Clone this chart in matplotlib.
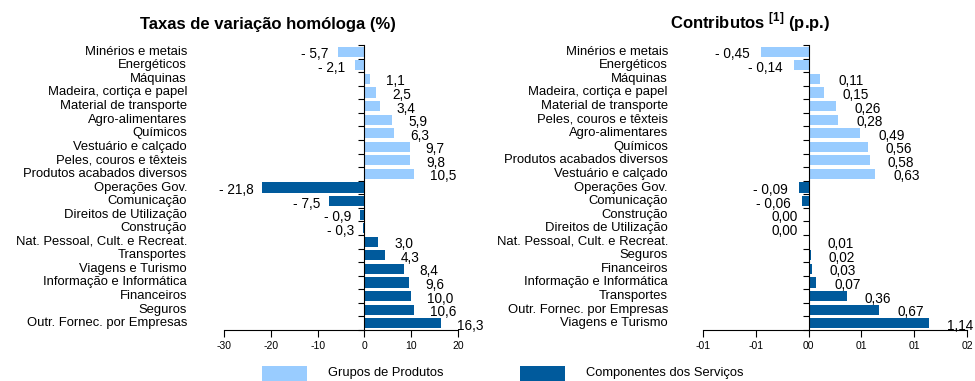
import matplotlib
matplotlib.use("Agg")
import matplotlib.pyplot as plt
import numpy as np
from matplotlib.patches import Rectangle
from matplotlib.transforms import blended_transform_factory

plt.rcParams['font.family'] = ['Liberation Sans', 'DejaVu Sans']
plt.rcParams['mathtext.fontset'] = 'custom'
plt.rcParams['mathtext.bf'] = 'Liberation Sans:bold'

light = "#99CCFF"
dark = "#005A9C"

# taxas de variação homóloga (%)
tx_labels = ["Minérios e metais", "Energéticos", "Máquinas", "Madeira, cortiça e papel",
             "Material de transporte", "Agro-alimentares", "Químicos", "Vestuário e calçado",
             "Peles, couros e têxteis", "Produtos acabados diversos", "Operações Gov.",
             "Comunicação", "Direitos de Utilização", "Construção",
             "Nat. Pessoal, Cult. e Recreat.", "Transportes", "Viagens e Turismo",
             "Informação e Informática", "Financeiros", "Seguros", "Outr. Fornec. por Empresas"]
tx_values = [-5.7, -2.1, 1.1, 2.5, 3.4, 5.9, 6.3, 9.7, 9.8, 10.5,
             -21.8, -7.5, -0.9, -0.3, 3.0, 4.3, 8.4, 9.6, 10.0, 10.6, 16.3]
tx_group = [0]*10 + [1]*11

# contributos (p.p.)
ct_labels = ["Minérios e metais", "Energéticos", "Máquinas", "Madeira, cortiça e papel",
             "Material de transporte", "Peles, couros e têxteis", "Agro-alimentares",
             "Químicos", "Produtos acabados diversos", "Vestuário e calçado", "Operações Gov.",
             "Comunicação", "Construção", "Direitos de Utilização",
             "Nat. Pessoal, Cult. e Recreat.", "Seguros", "Financeiros",
             "Informação e Informática", "Transportes", "Outr. Fornec. por Empresas",
             "Viagens e Turismo"]
ct_values = [-0.45, -0.14, 0.11, 0.15, 0.26, 0.28, 0.49, 0.56, 0.58, 0.63,
             -0.09, -0.06, 0.00, 0.00, 0.01, 0.02, 0.03, 0.07, 0.36, 0.67, 1.14]
ct_group = [0]*10 + [1]*11

tx_ticks = [-30, -20, -10, 0, 10, 20]
ct_ticks = [-1.0, -0.5, 0.0, 0.5, 1.0, 1.5]
ct_ticklabels = ["-01", "-01", "00", "01", "01", "02"]

legend_labels = ["Grupos de Produtos", "Componentes dos Serviços"]

W, H = 975.0, 381.0
fig = plt.figure(figsize=(W/100, H/100), dpi=100)
ax1 = fig.add_axes([224/W, (H-330)/H, 234/W, 285/H])
ax2 = fig.add_axes([703/W, (H-330)/H, 264/W, 285/H])


def fmt(v, nd):
    s = f"{abs(v):.{nd}f}".replace(".", ",")
    return "- " + s if v < 0 else s


def panel(ax, labels, values, groups, ticks, ticklabels, nd, pos_gap, neg_gap, label_x):
    n = len(values)
    y = np.arange(n)
    colors = [light if g == 0 else dark for g in groups]
    ax.barh(y, values, height=0.74, color=colors, zorder=2)
    ax.set_ylim(n - 0.5, -0.5)
    ax.set_xlim(ticks[0], ticks[-1])
    ax.set_xticks(ticks)
    ax.set_xticklabels(ticklabels, fontsize=7.5)
    ax.tick_params(axis="x", direction="out", length=5, width=0.8, pad=3)
    ax.spines["left"].set_position(("data", 0))
    ax.spines["left"].set_zorder(3)
    ax.set_yticks(np.arange(-0.5, n, 1.0))
    ax.set_yticklabels([])
    ax.tick_params(axis="y", direction="out", length=4, width=0.8)
    for s in ["top", "right"]:
        ax.spines[s].set_visible(False)
    ax.spines["bottom"].set_linewidth(0.8)
    ax.spines["left"].set_linewidth(0.8)
    tr = blended_transform_factory(ax.transAxes, ax.transData)
    for yi, lab in zip(y, labels):
        ax.text(label_x, yi, lab, transform=tr, ha="right", va="center", fontsize=9.4)
    for yi, v in zip(y, values):
        if v > 0:
            ax.annotate(fmt(v, nd), (v, yi), xytext=(pos_gap, -1.8), textcoords="offset points",
                        ha="left", va="center", fontsize=9.8, annotation_clip=False)
        else:
            ax.annotate(fmt(v, nd), (v, yi), xytext=(-neg_gap, -1.8), textcoords="offset points",
                        ha="right", va="center", fontsize=9.8, annotation_clip=False)


panel(ax1, tx_labels, tx_values, tx_group, tx_ticks, [str(t) for t in tx_ticks], 1,
      11.5, 6.5, -37/234)
panel(ax2, ct_labels, ct_values, ct_group, ct_ticks, ct_ticklabels, 2,
      13, 8, -35/264)

fig.text(268/W, 1 - 25/H, "Taxas de variação homóloga (%)", ha="center", va="center",
         fontsize=12, fontweight="bold")
fig.text(750/W, 1 - 22/H, r"Contributos $^{\mathbf{[1]}}$ (p.p.)", ha="center", va="center",
         fontsize=12, fontweight="bold")

# legend boxes and captions
for x0, col, lab, tx in zip([262, 520], [light, dark], legend_labels, [328, 586]):
    fig.add_artist(Rectangle((x0/W, 0), 45/W, 15/H, transform=fig.transFigure,
                             facecolor=col, edgecolor="none"))
    fig.text(tx/W, 1 - 373/H, lab, ha="left", va="center", fontsize=9.3)

fig.savefig("out.png", dpi=100)
